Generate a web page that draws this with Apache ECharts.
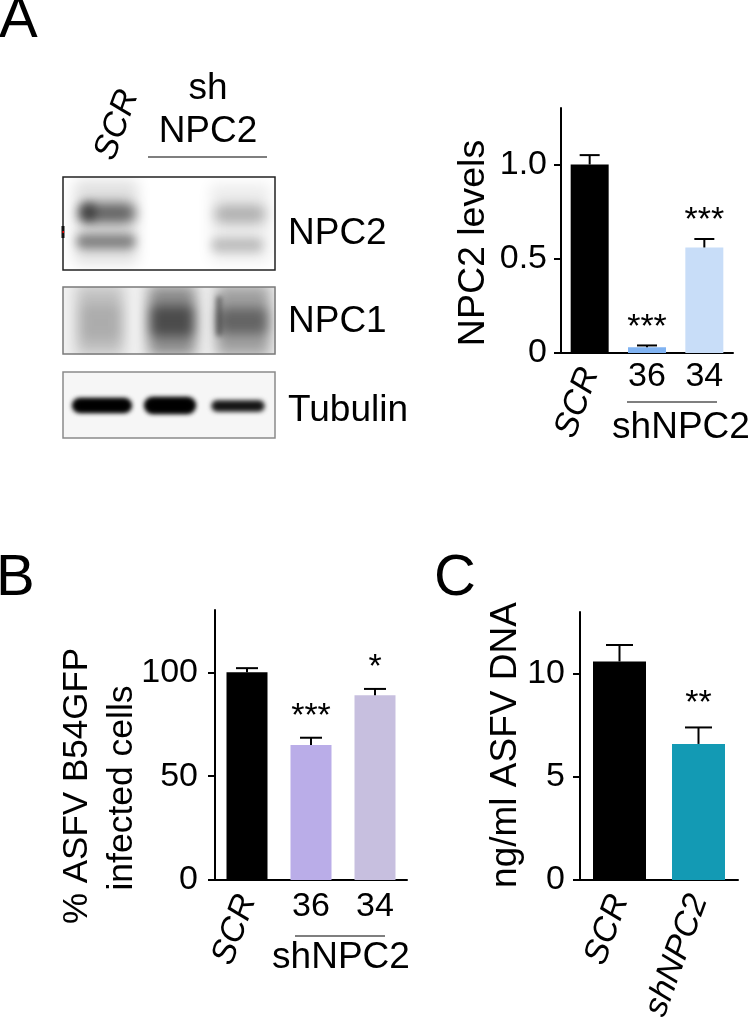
<!DOCTYPE html>
<html>
<head>
<meta charset="utf-8">
<script src="https://cdn.jsdelivr.net/npm/echarts@6/dist/echarts.min.js"></script>
<style>
  html, body { margin: 0; padding: 0; background: #fff; }
  #chart { width: 750px; height: 1028px; }
</style>
</head>
<body>
<div id="chart"></div>
<script>
// panel A - NPC2 levels
const catsA = ['SCR', '36', '34']
const valA = [1.0, 0.03, 0.56]
const errA = [0.05, 0.01, 0.045]
const sigA = ['', '***', '***']
const ticksA = [0, 0.5, 1.0]

// panel B - % infected cells
const catsB = ['SCR', '36', '34']
const valB = [100, 65, 89]
const errB = [2, 3.5, 3]
const sigB = ['', '***', '*']
const ticksB = [0, 50, 100]

// panel C - ng/ml ASFV DNA
const catsC = ['SCR', 'shNPC2']
const valC = [10.6, 6.6]
const errC = [0.8, 0.8]
const sigC = ['', '**']
const ticksC = [0, 5, 10]

// blot band intensity per lane (SCR, sh36, sh34)
const npc2Upper = [0.55, 0, 0.25]
const npc2Lower = [0.42, 0, 0.2]
const npc1Level = [0.2, 0.42, 0.34]
const tubulinLevel = [0.95, 0.95, 0.85]

// bar colours
const colorsA = ['#000000', '#80b3f2', '#c8ddf8']
const colorsB = ['#000000', '#baade8', '#c7bfdf']
const colorsC = ['#000000', '#139ab4']

const FONT = '"Liberation Sans", Arial, sans-serif'

const chart = echarts.init(document.getElementById('chart'), null, { renderer: 'canvas' })

function yAxis(grid, max, ticks, fmt, margin) {
  return {
    type: 'value',
    gridIndex: grid,
    min: 0,
    max: max,
    axisLine: { show: true, lineStyle: { color: '#000', width: 2 } },
    axisTick: { show: true, length: 7, customValues: ticks, lineStyle: { color: '#000', width: 2 } },
    axisLabel: { customValues: ticks, formatter: fmt, fontSize: 34, fontFamily: FONT, color: '#000', margin: margin },
    splitLine: { show: false }
  }
}

// main x axis: plain labels, SCR hidden
function xMain(grid, cats, margin) {
  return {
    type: 'category',
    gridIndex: grid,
    position: 'bottom',
    data: cats,
    axisLine: { lineStyle: { color: '#000', width: 2 } },
    axisTick: { show: false },
    axisLabel: {
      interval: 0,
      margin: margin,
      fontSize: 34,
      fontFamily: FONT,
      color: '#000',
      formatter: (v, i) => (i === 0 ? '' : v)
    }
  }
}

// overlay x axis for the slanted italic labels
function xSlant(grid, cats, onlyFirst) {
  return {
    type: 'category',
    gridIndex: grid,
    position: 'bottom',
    offset: 0,
    data: cats,
    axisLine: { show: !onlyFirst, lineStyle: { color: '#000', width: 2 } },
    axisTick: { show: false },
    axisLabel: {
      interval: 0,
      rotate: 70,
      margin: 16,
      fontSize: 34,
      fontStyle: 'italic',
      fontFamily: FONT,
      color: '#000',
      formatter: (v, i) => (onlyFirst && i !== 0 ? '' : v)
    }
  }
}

function barSeries(xi, yi, vals, colors, width) {
  return {
    type: 'bar',
    xAxisIndex: xi,
    yAxisIndex: yi,
    barWidth: width,
    data: vals.map((v, i) => ({ value: v, itemStyle: { color: colors[i] } })),
    z: 2
  }
}

function errSeries(xi, yi, vals, errs, sigs, capW, starGap) {
  return {
    type: 'custom',
    xAxisIndex: xi,
    yAxisIndex: yi,
    z: 3,
    data: vals.map((v, i) => [i, v, errs[i]]),
    renderItem(params, api) {
      const i = api.value(0)
      const v = api.value(1)
      const e = api.value(2)
      const base = api.coord([i, v])
      const top = api.coord([i, v + e])
      const children = [
        { type: 'line', shape: { x1: base[0], y1: base[1], x2: top[0], y2: top[1] }, style: { stroke: '#000', lineWidth: 2 } },
        { type: 'line', shape: { x1: top[0] - capW / 2, y1: top[1], x2: top[0] + capW / 2, y2: top[1] }, style: { stroke: '#000', lineWidth: 2 } }
      ]
      const s = sigs[params.dataIndex]
      if (s) {
        children.push({
          type: 'text',
          style: { text: s, x: top[0], y: top[1] - starGap, align: 'center', verticalAlign: 'middle', fontSize: 34, fontFamily: FONT, fill: '#000' }
        })
      }
      return { type: 'group', children: children }
    }
  }
}

// soft blot band: only the blurred shadow is visible
function blob(x, y, w, h, a, blur, r) {
  return {
    type: 'rect',
    silent: true,
    shape: { x: x - 2000, y: y, width: w, height: h, r: r == null ? h / 2 : r },
    style: { fill: '#000', shadowColor: 'rgba(0,0,0,' + a + ')', shadowBlur: blur, shadowOffsetX: 2000 }
  }
}

function txt(text, x, y, size, opts) {
  return Object.assign({
    type: 'text',
    x: x,
    y: y,
    silent: true,
    style: Object.assign({ text: text, fontSize: size, fontFamily: FONT, fill: '#000', align: 'center', verticalAlign: 'middle' }, (opts && opts.style) || {})
  }, opts && opts.rotation ? { rotation: opts.rotation } : {})
}

function hline(x1, x2, y) {
  return { type: 'line', silent: true, shape: { x1: x1, y1: y, x2: x2, y2: y }, style: { stroke: '#555', lineWidth: 1.5 } }
}

const boxes = [
  { y: 177, h: 93, stroke: '#222', fill: '#ffffff' },
  { y: 287, h: 67, stroke: '#7a7a7a', fill: '#f1f1f1' },
  { y: 372, h: 66, stroke: '#8a8a8a', fill: '#f6f6f6' }
]

const blot = []
boxes.forEach(b => blot.push({ type: 'rect', silent: true, shape: { x: 63, y: b.y, width: 212, height: b.h }, style: { fill: b.fill } }))
// NPC2 bands
blot.push(blob(74, 180, 64, 84, npc2Upper[0] * 0.22, 14, 6))
blot.push(blob(78, 203, 58, 20, npc2Upper[0], 12))
blot.push(blob(80, 202, 16, 20, npc2Upper[0] * 0.7, 8))
blot.push(blob(76, 234, 60, 15, npc2Lower[0], 10))
blot.push(blob(210, 184, 60, 78, npc2Upper[2] * 0.3, 14, 6))
blot.push(blob(214, 205, 52, 18, npc2Upper[2], 12))
blot.push(blob(211, 238, 52, 14, npc2Lower[2], 10))
// NPC1 smears
blot.push(blob(76, 285, 48, 71, npc1Level[0], 14, 4))
blot.push(blob(80, 305, 42, 35, npc1Level[0] * 0.5, 12, 4))
blot.push(blob(148, 285, 48, 71, npc1Level[1], 14, 4))
blot.push(blob(150, 306, 44, 30, npc1Level[1] * 1.1, 12, 4))
blot.push(blob(216, 285, 54, 71, npc1Level[2], 14, 4))
blot.push(blob(218, 308, 50, 26, npc1Level[2] * 1.1, 12, 4))
blot.push(blob(216, 296, 6, 40, 0.4, 5, 2))
// Tubulin
blot.push(blob(73, 399, 58, 13, tubulinLevel[0], 5))
blot.push(blob(73, 399, 58, 13, tubulinLevel[0], 5))
blot.push(blob(145, 398, 50, 15, tubulinLevel[1], 5))
blot.push(blob(145, 398, 50, 15, tubulinLevel[1], 5))
blot.push(blob(212, 401, 52, 10, tubulinLevel[2], 5))
blot.push(blob(212, 401, 52, 10, tubulinLevel[2] * 0.6, 5))
// masks between boxes
;[[160, 17], [271, 16], [355, 17], [439, 25]].forEach(m => blot.push({ type: 'rect', silent: true, shape: { x: 50, y: m[0], width: 240, height: m[1] }, style: { fill: '#fff' } }))
blot.push({ type: 'rect', silent: true, shape: { x: 276, y: 160, width: 10, height: 300 }, style: { fill: '#fff' } })
blot.push({ type: 'rect', silent: true, shape: { x: 52, y: 160, width: 10.5, height: 300 }, style: { fill: '#fff' } })
boxes.forEach(b => blot.push({ type: 'rect', silent: true, shape: { x: 63, y: b.y, width: 212, height: b.h }, style: { fill: 'none', stroke: b.stroke, lineWidth: 1.5 } }))
blot.push({ type: 'rect', silent: true, shape: { x: 61.5, y: 226, width: 3, height: 12 }, style: { fill: '#111' } })
blot.push({ type: 'rect', silent: true, shape: { x: 62.5, y: 231, width: 1.5, height: 2 }, style: { fill: '#e00' } })

const labels = [
  txt('A', -1, 21, 58, { style: { align: 'left' } }),
  txt('B', -4, 579, 58, { style: { align: 'left' } }),
  txt('C', 434, 579, 58, { style: { align: 'left' } }),
  // blot header
  txt('SCR', 117, 125, 34, { rotation: 70 * Math.PI / 180, style: { fontStyle: 'italic' } }),
  txt('sh', 208, 88.5, 37),
  txt('NPC2', 208, 131.5, 37),
  hline(148, 267, 157),
  txt('NPC2', 288, 234, 37, { style: { align: 'left' } }),
  txt('NPC1', 288, 322, 37, { style: { align: 'left' } }),
  txt('Tubulin', 288, 411, 37, { style: { align: 'left' } }),
  // axis names
  txt('NPC2 levels', 474, 243, 37.5, { rotation: Math.PI / 2 }),
  txt('% ASFV B54GFP', 77, 786, 35, { rotation: Math.PI / 2 }),
  txt('infected cells', 122.5, 788, 35.5, { rotation: Math.PI / 2 }),
  txt('ng/ml ASFV DNA', 506, 745, 37, { rotation: Math.PI / 2 }),
  // group labels under the x axes
  hline(627, 717, 402),
  txt('shNPC2', 681, 427.5, 37),
  hline(295, 385, 936),
  txt('shNPC2', 341, 957.5, 37)
]

chart.setOption({
  animation: false,
  backgroundColor: '#fff',
  grid: [
    { left: 561, top: 108, width: 172, height: 245 },
    { left: 215, top: 610, width: 192, height: 270 },
    { left: 580, top: 612, width: 158, height: 268 }
  ],
  xAxis: [
    xMain(0, catsA, 7),
    xSlant(0, catsA, true),
    xMain(1, catsB, 10),
    xSlant(1, catsB, true),
    xSlant(2, catsC, false)
  ],
  yAxis: [
    yAxis(0, 1.3, ticksA, v => (v === 0 ? '0' : v.toFixed(1)), 14),
    yAxis(1, 130, ticksB, v => String(v), 17),
    yAxis(2, 13, ticksC, v => String(v), 15)
  ],
  series: [
    barSeries(0, 0, valA, colorsA, 38),
    errSeries(0, 0, valA, errA, sigA, 20, 18),
    barSeries(2, 1, valB, colorsB, 41),
    errSeries(2, 1, valB, errB, sigB, 22, 21),
    barSeries(4, 2, valC, colorsC, 53),
    errSeries(4, 2, valC, errC, sigC, 27, 24)
  ],
  graphic: blot.concat(labels)
})
</script>
</body>
</html>
